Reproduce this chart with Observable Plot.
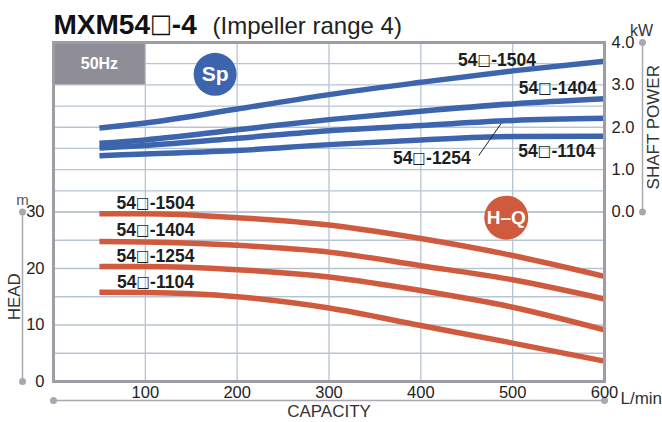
<!DOCTYPE html>
<html>
<head>
<meta charset="utf-8">
<script src="https://cdn.jsdelivr.net/npm/d3@7"></script>
<script src="https://cdn.jsdelivr.net/npm/@observablehq/plot@0.6"></script>
<style>
  html, body { margin: 0; padding: 0; background: #fff; }
</style>
</head>
<body>
<div id="chart"></div>
<script>
// ---- data ----
const models = ["54□-1504", "54□-1404", "54□-1254", "54□-1104"];
const capacity = [50, 100, 200, 300, 400, 500, 600];
const head1504 = [29.7, 29.7, 29.0, 27.7, 25.3, 22.3, 18.6];
const head1404 = [24.8, 24.7, 24.1, 22.9, 20.5, 18.0, 14.6];
const head1254 = [20.35, 20.35, 19.8, 18.5, 16.1, 13.15, 9.15];
const head1104 = [15.8, 15.75, 15.0, 13.0, 9.9, 6.8, 3.6];
const power1504 = [1.98, 2.10, 2.43, 2.77, 3.06, 3.33, 3.56];
const power1404 = [1.62, 1.70, 1.94, 2.18, 2.38, 2.55, 2.67];
const power1254 = [1.51, 1.57, 1.74, 1.92, 2.04, 2.16, 2.21];
const power1104 = [1.33, 1.37, 1.45, 1.59, 1.70, 1.78, 1.79];
const capacityTicks = [100, 200, 300, 400, 500, 600];
const headTicks = [0, 10, 20, 30];
const powerTicks = [0, 1, 2, 3, 4];
const headGrid = [0, 5, 10, 15, 20, 25, 30];
const powerGrid = [0, 0.5, 1, 1.5, 2, 2.5, 3, 3.5, 4];
const capacityGrid = [100, 200, 300, 400, 500];
// label anchors (data units)
const headLabelQ = [111, 111, 111, 111];
const headLabelH = [31.5, 26.7, 22.1, 17.5];
const powerLabelQ = [483, 549, 412, 548];
const powerLabelP = [3.57, 2.91, 1.26, 1.43];

// ---- helpers ----
// power (kW) shares the upper half of the frame: 0..4 kW -> 30..60 on the head scale
const P = p => 30 + 7.5 * p;
const heads = [head1504, head1404, head1254, head1104];
const powers = [power1504, power1404, power1254, power1104];
const headRows = models.flatMap((m, i) => capacity.map((q, j) => ({model: m, q, v: heads[i][j]})));
const powerRows = models.flatMap((m, i) => capacity.map((q, j) => ({model: m, q, v: P(powers[i][j])})));
const headLabels = models.map((m, i) => ({text: m, q: headLabelQ[i], v: headLabelH[i]}));
const powerLabels = models.map((m, i) => ({text: m, q: powerLabelQ[i], v: P(powerLabelP[i])}));

const RED = "#cf5a3e";
const BLUE = "#3d65ad";
const GRID = "#b7c5d3";
const FRAME = "#9e9da6";
const DECOR = "#a9a8b0";
const INK = "#1e1e1e";
const NARROW = "'Liberation Sans Narrow', 'Liberation Sans', Arial, sans-serif";
const SANS = "'Liberation Sans', Arial, sans-serif";

const chart = Plot.plot({
  width: 662,
  height: 422,
  marginTop: 42,
  marginBottom: 41,
  marginLeft: 53,
  marginRight: 58,
  x: {domain: [0, 600], axis: null},
  y: {domain: [0, 60], axis: null},
  style: {fontFamily: NARROW, background: "#fff", overflow: "visible"},
  marks: [
    // grid
    Plot.ruleY(headGrid, {stroke: GRID, strokeWidth: 1.3}),
    Plot.ruleY(powerGrid.map(P), {stroke: GRID, strokeWidth: 1.3}),
    Plot.ruleX(capacityGrid, {stroke: GRID, strokeWidth: 1.3}),
    // 50Hz box
    Plot.rectY([0], {x1: 0, x2: 100, y1: P(3), y2: P(4), fill: "#8f8d97"}),
    Plot.text(["50Hz"], {x: 50, y: P(3.5), fill: "#fff", fontFamily: SANS, fontWeight: "bold", fontSize: 16, textAnchor: "middle", lineAnchor: "middle"}),
    // curves
    Plot.line(powerRows, {x: "q", y: "v", z: "model", stroke: BLUE, strokeWidth: 5.5, curve: "monotone-x", strokeLinecap: "butt"}),
    Plot.line(headRows, {x: "q", y: "v", z: "model", stroke: RED, strokeWidth: 5.5, curve: "monotone-x", strokeLinecap: "butt"}),
    // frame
    Plot.frame({stroke: FRAME, strokeWidth: 3}),
    // badges
    Plot.dot([0], {x: 176, y: P(3.25), r: 21.5, fill: BLUE}),
    Plot.text(["Sp"], {x: 176, y: P(3.25), fill: "#fff", fontFamily: SANS, fontWeight: "bold", fontSize: 21, textAnchor: "middle", lineAnchor: "middle"}),
    Plot.dot([0], {x: 493, y: 29.0, r: 22, fill: RED}),
    Plot.text(["H–Q"], {x: 493, y: 29.0, fill: "#fff", fontFamily: NARROW, fontWeight: "bold", fontSize: 19, textAnchor: "middle", lineAnchor: "middle"}),
    // curve labels
    Plot.text(headLabels, {x: "q", y: "v", text: "text", fill: INK, fontFamily: SANS, fontWeight: "bold", fontSize: 17.5, textAnchor: "middle", lineAnchor: "middle"}),
    Plot.text(powerLabels, {x: "q", y: "v", text: "text", fill: INK, fontFamily: SANS, fontWeight: "bold", fontSize: 17.5, textAnchor: "middle", lineAnchor: "middle"}),
    Plot.link([0], {x1: 463, y1: P(1.33), x2: 487.5, y2: P(2.09), stroke: INK, strokeWidth: 1}),
    // left (HEAD) axis
    Plot.ruleX([0], {y1: 0, y2: 30, dx: -31, stroke: DECOR, strokeWidth: 1.5}),
    Plot.dot([0, 30], {x: 0, y: d => d, dx: -31, r: 3.5, fill: DECOR}),
    Plot.text(headTicks, {x: 0, y: d => d, text: d => String(d), dx: -9, textAnchor: "end", lineAnchor: "middle", fontSize: 16.5, fill: INK}),
    Plot.text(["m"], {x: 0, y: 30, dx: -31, dy: -12, fontSize: 15, fill: "#555", textAnchor: "middle", lineAnchor: "middle"}),
    Plot.text(["HEAD"], {x: 0, y: 15, dx: -39, rotate: -90, fontSize: 17, fill: "#333", textAnchor: "middle", lineAnchor: "middle"}),
    // bottom (CAPACITY) axis
    Plot.ruleY([0], {x1: 0, x2: 600, dy: 19, stroke: DECOR, strokeWidth: 1.5}),
    Plot.dot([0, 600], {x: d => d, y: 0, dy: 19, r: 3.5, fill: DECOR}),
    Plot.text(capacityTicks, {x: d => d, y: 0, text: d => String(d), dy: 11, textAnchor: "middle", lineAnchor: "middle", fontSize: 16.5, fill: INK}),
    Plot.text(["L/min"], {x: 600, y: 0, dx: 16, dy: 17, textAnchor: "start", lineAnchor: "middle", fontSize: 17, fill: "#333"}),
    Plot.text(["CAPACITY"], {x: 300, y: 0, dy: 30, textAnchor: "middle", lineAnchor: "middle", fontSize: 17, fill: "#333"}),
    // right (SHAFT POWER) axis
    Plot.ruleX([600], {y1: P(0), y2: P(4), dx: 38, stroke: DECOR, strokeWidth: 1.5}),
    Plot.dot([0, 4], {x: 600, y: d => P(d), dx: 38, r: 3.5, fill: DECOR}),
    Plot.text(powerTicks, {x: 600, y: d => P(d), text: d => d.toFixed(1), dx: 7, textAnchor: "start", lineAnchor: "middle", fontSize: 16.5, fill: INK}),
    Plot.text(["kW"], {x: 600, y: P(4), dx: 37, dy: -12, textAnchor: "middle", lineAnchor: "middle", fontSize: 16, fill: "#333"}),
    Plot.text(["SHAFT POWER"], {x: 600, y: P(2), dx: 49, rotate: -90, textAnchor: "middle", lineAnchor: "middle", fontSize: 17, fill: "#333"}),
    // title
    Plot.text(["MXM54□-4"], {x: 0, y: 60, dy: -9, textAnchor: "start", lineAnchor: "bottom", fontFamily: SANS, fontWeight: "bold", fontSize: 28, fill: "#111"}),
    Plot.text(["(Impeller range 4)"], {x: 0, y: 60, dx: 159, dy: -9, textAnchor: "start", lineAnchor: "bottom", fontFamily: SANS, fontSize: 24, fill: "#222"})
  ]
});

// render the "□" placeholder glyph in a font where it is a full-height box
chart.querySelectorAll("text").forEach(t => {
  if (t.children.length === 0 && t.textContent.includes("□")) {
    const parts = t.textContent.split("□");
    t.textContent = "";
    parts.forEach((part, i) => {
      if (i > 0) {
        const ts = document.createElementNS("http://www.w3.org/2000/svg", "tspan");
        ts.setAttribute("font-family", "'DejaVu Sans Condensed', 'DejaVu Sans', sans-serif");
        ts.setAttribute("font-weight", "normal");
        ts.setAttribute("font-size", "92%");
        ts.setAttribute("baseline-shift", "0.09em");
        ts.textContent = "□";
        t.appendChild(ts);
      }
      t.appendChild(document.createTextNode(part));
    });
  }
});
document.getElementById("chart").appendChild(chart);
</script>
</body>
</html>
